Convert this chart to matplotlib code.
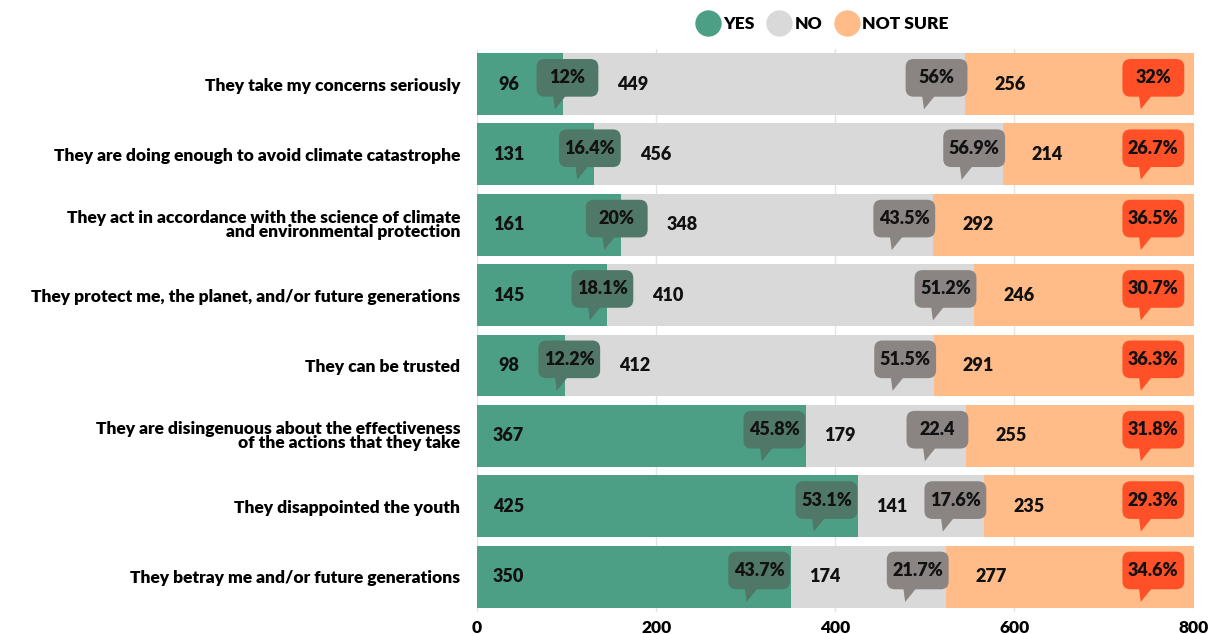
import matplotlib
matplotlib.use("Agg")
import matplotlib.pyplot as plt
from matplotlib.patches import FancyBboxPatch, Polygon
from matplotlib.lines import Line2D

plt.rcParams["font.family"] = ["Lato", "DejaVu Sans"]
plt.rcParams["font.weight"] = "bold"

statements = [
    "They take my concerns seriously",
    "They are doing enough to avoid climate catastrophe",
    "They act in accordance with the science of climate\nand environmental protection",
    "They protect me, the planet, and/or future generations",
    "They can be trusted",
    "They are disingenuous about the effectiveness\nof the actions that they take",
    "They disappointed the youth",
    "They betray me and/or future generations",
]
yes_counts = [96, 131, 161, 145, 98, 367, 425, 350]
no_counts = [449, 456, 348, 410, 412, 179, 141, 174]
unsure_counts = [256, 214, 292, 246, 291, 255, 235, 277]
yes_pct = ["12%", "16.4%", "20%", "18.1%", "12.2%", "45.8%", "53.1%", "43.7%"]
no_pct = ["56%", "56.9%", "43.5%", "51.2%", "51.5%", "22.4", "17.6%", "21.7%"]
unsure_pct = ["32%", "26.7%", "36.5%", "30.7%", "36.3%", "31.8%", "29.3%", "34.6%"]

c_yes, c_no, c_ns = "#4c9f85", "#d9d9d9", "#ffbb88"
b_yes, b_no, b_ns = "#507868", "#8a8482", "#ff5028"

fig = plt.figure(figsize=(12.23, 6.34), dpi=100)
ax = fig.add_axes([0.39, 0.035, 0.586, 0.888])

ys = list(range(len(statements)))
h = 0.88
no_left = yes_counts
ns_left = [a + b for a, b in zip(yes_counts, no_counts)]
ax.barh(ys, yes_counts, height=h, color=c_yes, zorder=2)
ax.barh(ys, no_counts, left=no_left, height=h, color=c_no, zorder=2)
ax.barh(ys, unsure_counts, left=ns_left, height=h, color=c_ns, zorder=2)

ax.set_xlim(0, 800)
ax.set_ylim(len(statements) - 0.5, -0.5)
ax.set_xticks([0, 200, 400, 600, 800])
ax.set_yticks(ys)
ax.set_yticklabels(statements, fontsize=12.5, fontweight="heavy", linespacing=0.85)
ax.tick_params(length=0, pad=12)
ax.tick_params(axis="x", pad=6, labelsize=12.5)
for lab in ax.get_xticklabels():
    lab.set_fontweight("heavy")
for s in ax.spines.values():
    s.set_visible(False)
ax.grid(axis="x", color="#e3e3e3", lw=1, zorder=0)
ax.set_axisbelow(True)

# speech bubble sizes (x in data units, y in row units)
bw = 69
r = 9
asp = (1 / 71) / (1 / 0.896)


def bubble(cx, y, text, color):
    top = y - 0.355
    bh = 0.535
    box = FancyBboxPatch((cx - bw / 2, top), bw, bh,
                         boxstyle=f"round,pad=0,rounding_size={r}",
                         mutation_aspect=asp, fc=color, ec="none", zorder=4)
    ax.add_patch(box)
    tail = Polygon([(cx - 16, top + bh - 0.01), (cx - 2, top + bh - 0.01),
                    (cx - 14, y + 0.36)], closed=True, fc=color, ec="none", zorder=4)
    ax.add_patch(tail)
    ax.text(cx, top + bh / 2, text, ha="center", va="center",
            fontsize=13, fontweight="heavy", color="#111111", zorder=5)


for i in ys:
    yend = yes_counts[i]
    nend = ns_left[i]
    ybc = yend - 35 if yend > 200 else yend - 5 + (10 if yend < 110 else 0)
    nbc = nend - 32
    bubble(ybc, i, yes_pct[i], b_yes)
    bubble(nbc, i, no_pct[i], b_no)
    bubble(755, i, unsure_pct[i], b_ns)
    ax.text(35, i, str(yes_counts[i]), ha="center", va="center",
            fontsize=13, fontweight="heavy", color="#111111", zorder=5)
    ax.text(ybc + 73, i, str(no_counts[i]), ha="center", va="center",
            fontsize=13, fontweight="heavy", color="#111111", zorder=5)
    ax.text(nend + 50, i, str(unsure_counts[i]), ha="center", va="center",
            fontsize=13, fontweight="heavy", color="#111111", zorder=5)

handles = [Line2D([], [], marker="o", ls="", ms=19, mfc=c, mec="none")
           for c in (c_yes, c_no, c_ns)]
leg = fig.legend(handles, ["YES", "NO", "NOT SURE"], loc="center", ncol=3,
                 bbox_to_anchor=(0.673, 0.962), frameon=False, fontsize=12.5,
                 handletextpad=0.3, columnspacing=0.8, handlelength=1.2)
for t in leg.get_texts():
    t.set_fontweight("heavy")

fig.savefig("out.png", dpi=100)
